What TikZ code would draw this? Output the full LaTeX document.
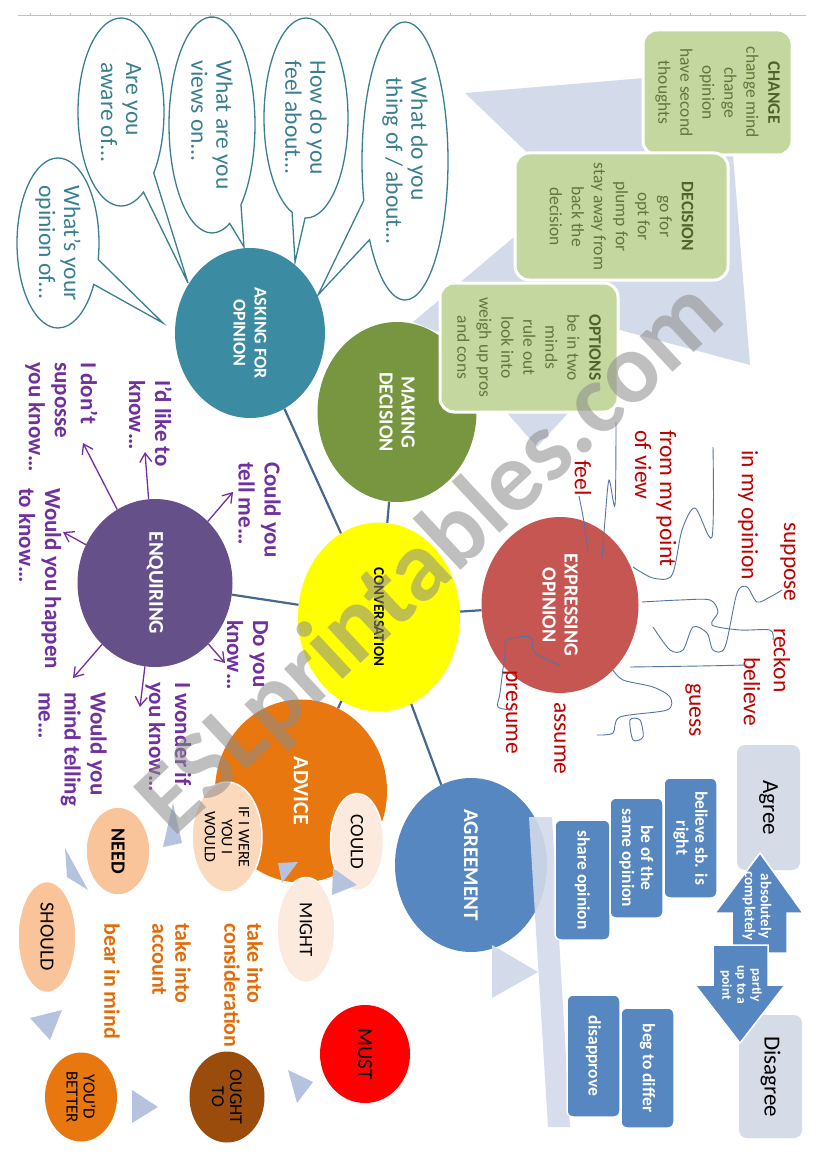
\documentclass[tikz,border=0pt]{standalone}
\usepackage{fontspec}
\setmainfont{Carlito}
\usetikzlibrary{arrows.meta,positioning,shapes.geometric,shapes.callouts,calc}

\definecolor{askteal}{HTML}{3B8BA2}
\definecolor{bubbleline}{HTML}{3A7F8F}
\definecolor{makegreen}{HTML}{78953F}
\definecolor{convyellow}{HTML}{FFFF00}
\definecolor{exprred}{HTML}{C65652}
\definecolor{enqpurple}{HTML}{655089}
\definecolor{advorange}{HTML}{E8770F}
\definecolor{agrblue}{HTML}{5787C0}
\definecolor{lavender}{HTML}{D3DAEA}
\definecolor{pointer}{HTML}{B5C3DF}
\definecolor{boxgreen}{HTML}{C4D79F}
\definecolor{titlegreen}{HTML}{4F6228}
\definecolor{bodygreen}{HTML}{5F7838}
\definecolor{textpurple}{HTML}{7030A0}
\definecolor{textred}{HTML}{C00000}
\definecolor{textorange}{HTML}{E36C09}
\definecolor{peach}{HTML}{F9C499}
\definecolor{lightpeach}{HTML}{FBD9BD}
\definecolor{palepeach}{HTML}{FDEADF}
\definecolor{oughtbrown}{HTML}{9A4C0C}
\definecolor{linkblue}{HTML}{46688F}
\definecolor{scribble}{HTML}{5474A6}
\definecolor{agreegrey}{HTML}{D6DBE8}
\definecolor{rulergrey}{HTML}{B9C3D6}

\tikzset{
  every node/.style={inner sep=0pt},
  vert/.style={rotate=-90},
  hub/.style={ellipse, vert, text=white, align=center,
    font=\fontsize{20}{22}\selectfont\bfseries},
  bubble/.style={ellipse callout, vert, draw=bubbleline, line width=1.3pt,
    fill=white, text=bubbleline, align=left, callout pointer arc=18,
    font=\fontsize{23.5}{25}\selectfont},
  mvbox/.style={rectangle, rounded corners=14pt, vert, fill=boxgreen,
    draw=white, line width=3pt, text=bodygreen, align=center,
    font=\fontsize{17.5}{22}\selectfont},
  enqtext/.style={vert, anchor=west, text=textpurple, align=left,
    font=\fontsize{23}{26}\selectfont\bfseries},
  opword/.style={vert, anchor=west, text=textred, align=left,
    font=\fontsize{23.5}{25}\selectfont},
  advtext/.style={vert, anchor=west, text=textorange, align=left,
    font=\fontsize{22}{23}\selectfont\bfseries},
  modal/.style={ellipse, vert, draw=white, line width=1.5pt, align=center,
    font=\fontsize{19}{19}\selectfont},
  agrbox/.style={rectangle, rounded corners=6pt, vert, fill=agrblue,
    draw=white, line width=1.5pt, text=white, align=center,
    font=\fontsize{17.5}{19}\selectfont\bfseries},
  scalebox/.style={rectangle, rounded corners=8pt, vert, fill=agreegrey,
    align=center, font=\fontsize{23}{25}\selectfont},
  link/.style={draw=linkblue, line width=2.2pt},
  enqarrow/.style={draw=textpurple, line width=1.3pt,
    -{Straight Barb[length=9pt,width=12pt]}},
  squig/.style={draw=scribble, line width=0.9pt},
  tri/.style={fill=pointer},
}

\begin{document}
\begin{tikzpicture}[x=1pt,y=-1pt]
  \useasboundingbox[fill=white] (0,0) rectangle (826,1169);

  % ruler along the top
  \draw[rulergrey, line width=1pt] (18,16) -- (806,16);
  \foreach \x in {30,50,...,790} \draw[rulergrey] (\x,16) -- (\x,13);

  % pointer shape behind the decision boxes
  \fill[lavender] (465,93) -- (645,78) -- (733,155) -- (750,365) -- (620,330)
    -- (580,400) -- (537,447) -- (500,405) -- (445,335) -- (413,322)
    -- (520,232) -- (540,165) -- cycle;

  % asking for opinion bubbles
  \node[bubble, minimum width=188, minimum height=86,
    callout absolute pointer={(188,283)}] (awareof) at (121,112) {Are you\\aware of…};
  \node[bubble, minimum width=216, minimum height=86,
    callout absolute pointer={(244,247)}] (viewson) at (212,125) {What are you\\views on…};
  \node[bubble, minimum width=200, minimum height=84,
    callout absolute pointer={(295,262)}] (feelabout) at (306,118) {How do you\\feel about…};
  \node[bubble, minimum width=278, minimum height=86,
    callout absolute pointer={(318,295)}] (thingof) at (405,161) {What do you\\thing of / about…};
  \node[bubble, minimum width=170, minimum height=82,
    callout absolute pointer={(163,323)}] (opinionof) at (58,243) {What’s your\\opinion of…};

  % main circles
  \node[hub, fill=askteal, minimum width=170, minimum height=150,
    font=\fontsize{18}{21}\selectfont\bfseries] (ask) at (250,333) {ASKING FOR\\OPINION};
  \node[hub, fill=makegreen, minimum width=180, minimum height=159] (make) at (397,412) {MAKING\\DECISION};
  \node[hub, fill=convyellow, text=black, minimum width=189, minimum height=162,
    font=\fontsize{15}{17}\selectfont\bfseries] (conv) at (379,617) {CONVERSATION};
  \node[hub, fill=exprred, minimum width=176, minimum height=157] (expr) at (560,605) {EXPRESSING\\OPINION};
  \node[hub, fill=enqpurple, minimum width=168, minimum height=155,
    font=\fontsize{21}{23}\selectfont\bfseries] (enq) at (155,583) {ENQUIRING};
  \node[hub, fill=advorange, minimum width=183, minimum height=172,
    font=\fontsize{22}{24}\selectfont\bfseries] (adv) at (301,791) {ADVICE};
  \node[hub, fill=agrblue, minimum width=174, minimum height=152,
    font=\fontsize{21}{23}\selectfont\bfseries] (agr) at (471,865) {AGREEMENT};

  \foreach \n in {ask,make,expr,enq,adv,agr}
    \draw[link] (conv) -- (\n);

  % making decision boxes
  \node[mvbox, minimum width=125, minimum height=149] (change) at (717.5,92.5)
    {\textbf{\textcolor{titlegreen}{CHANGE}}\\change mind\\change\\opinion\\have second\\thoughts};
  \node[mvbox, minimum width=127, minimum height=213] (decision) at (621.5,216.5)
    {\textbf{\textcolor{titlegreen}{DECISION}}\\go for\\opt for\\plump for\\stay away from\\back the\\decision};
  \node[mvbox, minimum width=129, minimum height=178] (options) at (529,347.5)
    {\textbf{\textcolor{titlegreen}{OPTIONS}}\\be in two\\minds\\rule out\\look into\\weigh up pros\\and cons};

  % enquiring phrases
  \node[enqtext] (tellme) at (259.5,462) {Could you\\tell me…};
  \node[enqtext] (idlike) at (150.5,380) {I’d like to\\know…};
  \node[enqtext] (idont) at (61.5,362) {I don’t\\suposse\\you know…};
  \node[enqtext] (happen) at (40,488) {Would you happen\\to know…};
  \node[enqtext] (mindtell) at (72.5,692) {Would you\\mind telling\\me…};
  \node[enqtext] (wonder) at (168.5,682) {I wonder if\\you know…};
  \node[enqtext] (doyou) at (247.5,620) {Do you\\know…};

  \coordinate (tip tellme) at (233,492);
  \coordinate (tip idlike) at (145,452);
  \coordinate (tip idont) at (83,443);
  \coordinate (tip happen) at (63,532);
  \coordinate (tip mindtell) at (73,678);
  \coordinate (tip wonder) at (140,707);
  \coordinate (tip doyou) at (225,663);
  \foreach \t in {tellme,idlike,idont,happen,mindtell,wonder,doyou}
    \draw[enqarrow] (enq) -- (tip \t);

  % expressing opinion words
  \node[opword] (feel) at (583,460) {feel};
  \node[opword] (pointview) at (655.5,430) {from my point\\of view};
  \node[opword] (inmyop) at (748,450) {in my opinion};
  \node[opword] (suppose) at (788,522) {suppose};
  \node[opword] (reckon) at (782,628) {reckon};
  \node[opword] (believe) at (752,657) {believe};
  \node[opword] (guess) at (693,683) {guess};
  \node[opword] (assume) at (560,702) {assume};
  \node[opword] (presume) at (510,670) {presume};

  % scribbled links
  \draw[squig] plot[smooth] coordinates {(579,496) (584,522) (588,552)};
  \draw[squig] plot[smooth] coordinates {(616,422) (615,505) (609,480) (605,520) (602,558)};
  \draw[squig] plot[smooth] coordinates {(713,447) (712,537) (695,508) (682,530) (672,575) (653,578) (633,567)};
  \draw[squig] plot[smooth] coordinates {(653,627) (670,650) (683,650) (693,627) (707,633) (713,650)
    (725,647) (737,593) (747,587) (757,602) (770,597) (782,590)};
  \draw[squig] plot[smooth] coordinates {(642,602) (680,600) (710,600) (718,612) (712,625) (740,630) (770,630) (773,640)};
  \draw[squig] plot[smooth] coordinates {(630,667) (700,666) (747,665)};
  \draw[squig] plot[smooth] coordinates {(613,670) (623,680) (653,687) (670,697) (667,710) (620,717) (613,733) (597,735)};
  \draw[squig] plot[smooth cycle] coordinates {(630,720) (633,740) (643,737) (640,720)};
  \draw[squig] plot[smooth] coordinates {(560,665) (535,653) (530,637) (507,640) (505,653) (500,693) (498,707) (513,710)};

  % advice modals
  \node[modal, fill=lightpeach, minimum width=110, minimum height=70,
    font=\fontsize{16}{17}\selectfont] (ifiwere) at (227,837) {IF I WERE\\YOU I\\WOULD};
  \node[modal, fill=palepeach, minimum width=97, minimum height=53] (could) at (357,842) {COULD};
  \node[modal, fill=palepeach, minimum width=105, minimum height=58] (might) at (306,930) {MIGHT};
  \node[modal, fill=peach, minimum width=88, minimum height=64,
    font=\fontsize{20}{20}\selectfont\bfseries] (need) at (118,851) {NEED};
  \node[modal, fill=peach, minimum width=111, minimum height=58,
    font=\fontsize{20}{20}\selectfont] (should) at (47,937) {SHOULD};
  \node[modal, fill=advorange, draw=none, minimum width=89, minimum height=72,
    font=\fontsize{17}{17}\selectfont] (better) at (81,1097) {YOU’D\\BETTER};
  \node[modal, fill=oughtbrown, draw=none, minimum width=91, minimum height=75,
    font=\fontsize{18}{18}\selectfont] (ought) at (227,1097) {OUGHT\\TO};
  \node[modal, fill=red, draw=none, minimum width=98, minimum height=90,
    font=\fontsize{21}{21}\selectfont] (must) at (365,1054) {MUST};

  \fill[tri] (333,868) -- (332,895) -- (357,885) -- cycle;
  \fill[tri] (278,863) -- (298,862) -- (282,883) -- cycle;
  \fill[tri] (65,848) -- (67,877) -- (88,890) -- cycle;
  \fill[tri] (173,803) -- (163,847) -- (182,843) -- cycle;
  \fill[tri] (30,1018) -- (62,1010) -- (50,1040) -- cycle;
  \fill[tri] (132,1090) -- (132,1123) -- (158,1107) -- cycle;
  \fill[tri] (288,1070) -- (313,1082) -- (297,1103) -- cycle;

  \node[advtext] (consid) at (243.5,923) {take into\\consideration};
  \node[advtext] (account) at (171.5,923) {take into\\account};
  \node[advtext] (bearmind) at (112,923) {bear in mind};

  % agreement scale
  \fill[lavender, opacity=.9] (529,817) -- (552,817) -- (570,1127) -- (548,1127) -- cycle;
  \fill[lavender] (492,945) -- (492,998) -- (538,972) -- cycle;

  \node[agrbox, minimum width=120, minimum height=55] (shareop) at (582.5,880) {share opinion};
  \node[agrbox, minimum width=120, minimum height=53] (sameop) at (636.5,858) {be of the\\same opinion};
  \node[agrbox, minimum width=120, minimum height=53] (sbright) at (690.5,838) {believe sb. is\\right};
  \node[agrbox, minimum width=122, minimum height=53] (disapp) at (593.5,1056) {disapprove};
  \node[agrbox, minimum width=120, minimum height=53] (differ) at (647.5,1068) {beg to differ};

  \node[scalebox, minimum width=125, minimum height=63] (agree) at (768.5,807.5) {Agree};
  \node[scalebox, minimum width=123, minimum height=63] (disagree) at (770.5,1076.5) {Disagree};

  \filldraw[fill=agrblue, draw=white, line width=1.5pt] (760,853) -- (803,913) -- (787,913)
    -- (787,953) -- (732,953) -- (732,913) -- (715,913) -- cycle;
  \filldraw[fill=agrblue, draw=white, line width=1.5pt] (713,945) -- (768,945) -- (768,985)
    -- (785,985) -- (740,1043) -- (695,985) -- (713,985) -- cycle;
  \node[vert, text=white, align=center, font=\fontsize{15}{16}\selectfont\bfseries]
    (fully) at (757,906) {absolutely\\completely};
  \node[vert, text=white, align=center, font=\fontsize{13.5}{15}\selectfont\bfseries]
    (partly) at (741,985) {partly\\up to a\\point};

  % watermark
  \node[rotate=43, text=black!45, opacity=.55,
    font=\fontsize{100}{100}\selectfont\bfseries] (wmark) at (432,560) {ESLprintables.com};
\end{tikzpicture}
\end{document}
